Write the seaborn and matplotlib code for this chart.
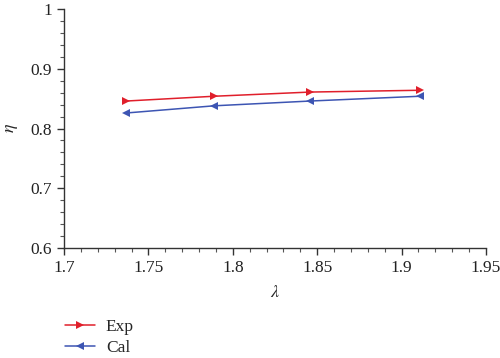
import matplotlib
matplotlib.use("Agg")
import matplotlib.pyplot as plt
import seaborn as sns
import pandas as pd
from matplotlib.ticker import MultipleLocator, FuncFormatter
from matplotlib.lines import Line2D

lam = [1.737, 1.789, 1.846, 1.911]
exp_vals = [0.846, 0.854, 0.861, 0.864]
cal_vals = [0.826, 0.838, 0.846, 0.854]
series = ["Exp", "Cal"]
xticks = [1.7, 1.75, 1.8, 1.85, 1.9, 1.95]
yticks = [0.6, 0.7, 0.8, 0.9, 1.0]

sns.set_theme(style="ticks")
plt.rcParams['font.family'] = ['Liberation Serif', 'DejaVu Serif']
plt.rcParams['mathtext.fontset'] = 'stix'

df = pd.DataFrame({
    "lam": lam * 2,
    "eta": exp_vals + cal_vals,
    "series": [series[0]] * len(lam) + [series[1]] * len(lam),
})

fig = plt.figure(figsize=(5, 3.58), dpi=100)
ax = fig.add_axes([0.128, 0.307, 0.844, 0.668])

palette = {"Exp": "#e01f2b", "Cal": "#3d55b3"}
markers = {"Exp": ">", "Cal": "<"}
sns.lineplot(data=df, x="lam", y="eta", hue="series", style="series",
             palette=palette, markers=markers, dashes=False,
             markersize=6, markeredgewidth=0, linewidth=1.1, ax=ax,
             legend=False)

ax.set_xlim(1.7, 1.95)
ax.set_ylim(0.6, 1.0)
ax.set_xticks(xticks)
ax.set_yticks(yticks)
ax.xaxis.set_minor_locator(MultipleLocator(0.01))
ax.yaxis.set_minor_locator(MultipleLocator(0.02))
fmt = FuncFormatter(lambda v, p: ("%g" % round(v, 3)))
ax.xaxis.set_major_formatter(fmt)
ax.yaxis.set_major_formatter(fmt)
ax.tick_params(which="major", direction="out", length=5, width=1, labelsize=12.5,
               colors="#333333", labelcolor="#222222")
ax.tick_params(which="minor", direction="out", length=3, width=0.8, colors="#555555")
for s in ["top", "right"]:
    ax.spines[s].set_visible(False)
for s in ["left", "bottom"]:
    ax.spines[s].set_color("#333333")
    ax.spines[s].set_linewidth(1)

ax.set_xlabel(r"$\lambda$", fontsize=13, labelpad=6)
ax.set_ylabel(r"$\eta$", fontsize=13, labelpad=8)

handles = [Line2D([], [], color=palette[s], marker=markers[s], markersize=6,
                  markeredgewidth=0, linewidth=1.1) for s in series]
fig.legend(handles, series, loc="upper left", bbox_to_anchor=(0.130, 0.110),
           frameon=False, fontsize=12.5, handlelength=1.7, handletextpad=0.65,
           labelspacing=0.3, borderaxespad=0, borderpad=0)

fig.savefig("out.png", dpi=100)
